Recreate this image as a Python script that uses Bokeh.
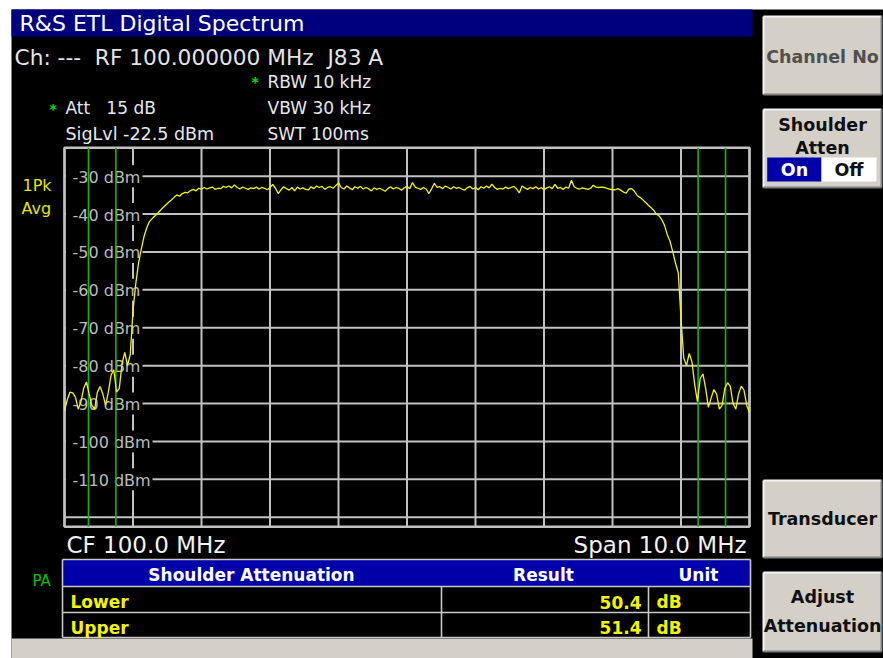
import numpy as np
from bokeh.plotting import figure
from bokeh.models import Range1d
from bokeh.core.properties import value
from bokeh.embed import file_html
from bokeh.resources import INLINE

# ---------------- data ----------------
F_CENTER = 100.0          # MHz
F_SPAN = 10.0             # MHz
F_STEP = 0.04             # MHz between trace points
REF_LEVEL = -22.5         # dBm (top of grid)
DB_RANGE = 100.0          # dB shown

LEVELS = [
    -92.0, -89.0, -87.0, -87.2, -88.3, -91.5, -89.5, -86.0, -84.3, -87.5,
    -90.5, -91.5, -87.0, -85.5, -87.5, -90.5, -87.0, -82.5, -81.1, -87.0,
    -86.0, -79.5, -76.5, -80.0, -77.0, -65.5, -58.5, -53.0, -49.3, -46.0,
    -43.7, -42.0, -41.2, -40.5, -39.8, -39.0, -38.3, -37.6, -36.9, -36.3,
    -35.6, -35.0, -35.3, -34.6, -34.3, -34.4, -33.8, -33.5, -33.9, -33.2,
    -33.4, -33.0, -33.4, -33.1, -32.9, -33.5, -33.2, -33.3, -32.7, -33.0,
    -32.6, -33.1, -32.3, -33.0, -33.4, -32.9, -33.2, -33.5, -33.1, -33.3,
    -32.9, -33.4, -33.0, -33.2, -33.6, -33.0, -32.2, -33.2, -34.6, -33.6,
    -32.8, -33.3, -33.7, -33.0, -33.9, -32.9, -33.4, -33.1, -33.5, -33.6,
    -32.8, -33.3, -32.6, -33.0, -32.7, -33.5, -33.0, -32.8, -33.2, -32.5,
    -31.8, -33.0, -33.4, -32.6, -33.1, -33.6, -32.8, -33.2, -32.7, -33.4,
    -33.0, -33.3, -33.9, -33.1, -33.5, -33.2, -33.6, -34.0, -33.3, -32.8,
    -33.4, -33.0, -33.2, -33.7, -33.1, -32.7, -33.3, -31.7, -32.9, -33.2,
    -33.5, -33.0, -33.4, -34.6, -33.3, -31.9, -33.0, -32.8, -33.3, -32.6,
    -33.0, -33.4, -32.8, -33.2, -33.0, -33.4, -33.7, -33.1, -32.7, -33.4,
    -33.0, -33.6, -32.8, -33.2, -32.6, -33.1, -32.1, -33.0, -33.5, -33.2,
    -33.4, -32.9, -33.3, -33.0, -32.7, -33.4, -34.4, -32.6, -33.1, -33.5,
    -33.0, -33.3, -32.8, -33.4, -33.0, -33.6, -33.1, -32.8, -33.3, -32.2,
    -33.2, -33.0, -33.5, -32.9, -33.2, -31.1, -32.8, -33.2, -33.4, -33.1,
    -33.3, -33.5, -33.2, -32.4, -32.9, -33.0, -32.9, -33.0, -33.2, -33.4,
    -33.6, -33.6, -33.3, -33.7, -34.2, -34.5, -33.4, -33.3, -34.0, -35.1,
    -35.6, -36.2, -36.9, -37.6, -38.3, -39.0, -40.0, -40.5, -41.5, -43.0,
    -45.5, -47.2, -50.0, -53.0, -55.5, -67.5, -78.0, -80.0, -76.8, -79.0,
    -85.0, -89.5, -83.4, -82.2, -86.0, -91.0, -88.5, -86.3, -87.5, -91.5,
    -90.5, -86.0, -84.5, -85.5, -90.0, -91.5, -87.5, -85.4, -86.5, -90.5,
    -92.5,
]

MARKER_FREQS = [95.35, 95.75, 104.25, 104.65]      # shoulder measurement lines
FREQ_GRID = [95, 96, 97, 98, 99, 100, 101, 102, 103, 104, 105]
LEVEL_GRID = [-30, -40, -50, -60, -70, -80, -90, -100, -110, -120]
LEVEL_TICKS = [-30, -40, -50, -60, -70, -80, -90, -100, -110]
LEVEL_TICK_LABELS = ["%d dBm" % v for v in LEVEL_TICKS]

ROW_NAMES = ["Lower", "Upper"]
ROW_RESULTS = ["50.4", "51.4"]
ROW_UNITS = ["dB", "dB"]

NB = "\u00a0"

# ---------------- layout (page pixels) ----------------
W, H = 883, 658
PX0, PY0 = 0, 0
GL, GR, GT, GB = 64.0, 749.0, 147.2, 526.2     # spectrum grid box

F0 = F_CENTER - F_SPAN / 2
F1 = F_CENTER + F_SPAN / 2
DB_BOT = REF_LEVEL - DB_RANGE
px_per_mhz = (GR - GL) / F_SPAN
px_per_db = (GB - GT) / DB_RANGE

p = figure(width=W, height=H, x_range=Range1d(PX0, PX0 + W), y_range=Range1d(PY0 + H, PY0),
           min_border=0, x_axis_location=None, y_axis_location=None,
           toolbar_location=None, output_backend="svg")
p.outline_line_color = None
p.background_fill_color = "white"
p.border_fill_color = "white"
p.xgrid.visible = False
p.ygrid.visible = False

p.extra_x_ranges = {"freq": Range1d(F0 - (GL - PX0) / px_per_mhz, F0 + (PX0 + W - GL) / px_per_mhz)}
p.extra_y_ranges = {"dbm": Range1d(REF_LEVEL - (PY0 + H - GT) / px_per_db, REF_LEVEL + (GT - PY0) / px_per_db)}

FONT = value("DejaVu Sans")


def txt(x, y, s, size, color, bold=False, align="left"):
    """y is the vertical centre of the capital letters"""
    p.text(x=[x], y=[y], text=[s], text_font=FONT, text_font_size="%gpx" % size,
           text_color=color, text_font_style="bold" if bold else "normal",
           text_align=align, text_baseline="middle")


BTN = "#d4d0c8"


def button(l, r, t, b):
    p.quad(left=l, right=r, top=t, bottom=b, fill_color=BTN, line_color=None)
    p.segment(x0=[l, l], y0=[t, t], x1=[r, l], y1=[t, b], line_color="#f4f4f4", line_width=2)
    p.segment(x0=[l, r], y0=[b, t], x1=[r, r], y1=[b, b], line_color="#808080", line_width=2)


# screen background
p.quad(left=11, right=W + 2, top=9, bottom=H + 2, fill_color="black", line_color=None)
# title bar
p.quad(left=11, right=752, top=9, bottom=36, fill_color="#00007f", line_color=None)
txt(19, 23.3, "R&S ETL Digital Spectrum", 22, "white")
# bottom status strip
p.quad(left=11, right=752, top=638, bottom=H + 2, fill_color=BTN, line_color=None)

# info texts
txt(14, 56.5, "Ch: ---" + NB + " RF 100.000000 MHz" + NB + " J83 A", 21.7, "#e4e4e4")
txt(251, 81.5, "*", 14, "#00e000", bold=True)
txt(267, 81, "RBW 10 kHz", 17, "#e8e8e8")
txt(49, 108.5, "*", 14, "#00e000", bold=True)
txt(65, 107.2, "Att" + NB + NB + " 15 dB", 17, "#e8e8e8")
txt(267, 107.2, "VBW 30 kHz", 17, "#e8e8e8")
txt(65, 133, "SigLvl -22.5 dBm", 17.5, "#e8e8e8")
txt(267, 133, "SWT 100ms", 17, "#e8e8e8")
txt(22, 185, "1Pk", 16, "#e6e600")
txt(21, 208, "Avg", 16, "#e6e600")

# ---------------- spectrum grid ----------------
GRID_C = "#c2c2c2"
rn = dict(x_range_name="freq", y_range_name="dbm")
p.segment(x0=FREQ_GRID, y0=[DB_BOT] * len(FREQ_GRID), x1=FREQ_GRID, y1=[REF_LEVEL] * len(FREQ_GRID),
          line_color=GRID_C, line_width=2, **rn)
p.segment(x0=[F0] * len(LEVEL_GRID), y0=LEVEL_GRID, x1=[F1] * len(LEVEL_GRID), y1=LEVEL_GRID,
          line_color=GRID_C, line_width=2, **rn)
p.quad(left=[F0], right=[F1], bottom=[DB_BOT], top=[REF_LEVEL], fill_color=None,
       line_color=GRID_C, line_width=2.5, **rn)

# level labels with black backing boxes
label_right = [142 if v > -100 else 152 for v in LEVEL_TICKS]
box_l = GL + 1.5
p.rect(x=[(box_l + r) / 2 for r in label_right], y=LEVEL_TICKS,
       width=[r - box_l for r in label_right], height=22, height_units="screen",
       fill_color="black", line_color=None, y_range_name="dbm")
p.text(x=[GL + 8] * len(LEVEL_TICKS), y=LEVEL_TICKS, text=LEVEL_TICK_LABELS, text_font=FONT,
       text_font_size="16px", text_color="#bcbcbc", text_baseline="middle", y_range_name="dbm",
       y_offset=1)

# shoulder marker lines
p.segment(x0=MARKER_FREQS, y0=[DB_BOT] * 4, x1=MARKER_FREQS, y1=[REF_LEVEL] * 4,
          line_color="#10b810", line_width=1.6, **rn)

# trace
freqs = F0 + F_STEP * np.arange(len(LEVELS))
p.line(freqs, LEVELS, line_color="#f4f400", line_width=1.3, **rn)

txt(66, 544.5, "CF 100.0 MHz", 23, "#f2f2f2")
txt(746, 544.5, "Span 10.0 MHz", 23, "#f2f2f2", align="right")

# ---------------- result table ----------------
TL, TR, TT, TM, TB = 62, 750, 559, 586, 637
ROW_MID = [601.5, 627.2]
p.quad(left=TL, right=TR, top=TT, bottom=TM, fill_color="#0000a8", line_color=None)
TBL_C = "#c8c8c8"
p.segment(x0=[TL, TL, TL, TL], y0=[TT, TM, 612, TB], x1=[TR, TR, TR, TR], y1=[TT, TM, 612, TB],
          line_color=TBL_C, line_width=1.6)
p.segment(x0=[TL, TR], y0=[TT, TT], x1=[TL, TR], y1=[TB, TB], line_color=TBL_C, line_width=1.6)
p.segment(x0=[441, 648], y0=[TM, TM], x1=[441, 648], y1=[TB, TB], line_color=TBL_C, line_width=1.6)
txt(251, 574, "Shoulder Attenuation", 17, "white", bold=True, align="center")
txt(543, 574, "Result", 17, "white", bold=True, align="center")
txt(698, 574, "Unit", 17, "white", bold=True, align="center")
for k in range(len(ROW_NAMES)):
    yc = ROW_MID[k]
    txt(70, yc, ROW_NAMES[k], 17, "#f4f400", bold=True)
    txt(641, yc, ROW_RESULTS[k], 17, "#f4f400", bold=True, align="right")
    txt(656, yc, ROW_UNITS[k], 17, "#f4f400", bold=True)
txt(32, 580.3, "PA", 15, "#00c000")

# ---------------- soft key column ----------------
BL, BR = 763, 881
BC = (BL + BR) / 2
BF = 17.5
button(BL, BR, 16, 94)
txt(BC, 56.7, "Channel No", BF, "#505050", bold=True, align="center")
button(BL, BR, 109, 187)
txt(BC, 124.5, "Shoulder", BF, "#101010", bold=True, align="center")
txt(BC, 147.5, "Atten", BF, "#101010", bold=True, align="center")
p.quad(left=BL + 3.7, right=BL + 58, top=157, bottom=181, fill_color="#0000a8", line_color=None)
p.quad(left=BL + 58, right=BL + 113, top=157, bottom=181, fill_color="white", line_color=None)
txt(BL + 31, 169.7, "On", BF, "white", bold=True, align="center")
txt(BL + 85.5, 169.7, "Off", BF, "#101010", bold=True, align="center")
button(BL, BR, 480, 557)
txt(BC, 518.3, "Transducer", BF, "#101010", bold=True, align="center")
button(BL, BR, 572, 651)
txt(BC, 596.3, "Adjust", BF, "#101010", bold=True, align="center")
txt(BC, 625.8, "Attenuation", BF, "#101010", bold=True, align="center")

open("out.html", "w").write(file_html(p, INLINE))
